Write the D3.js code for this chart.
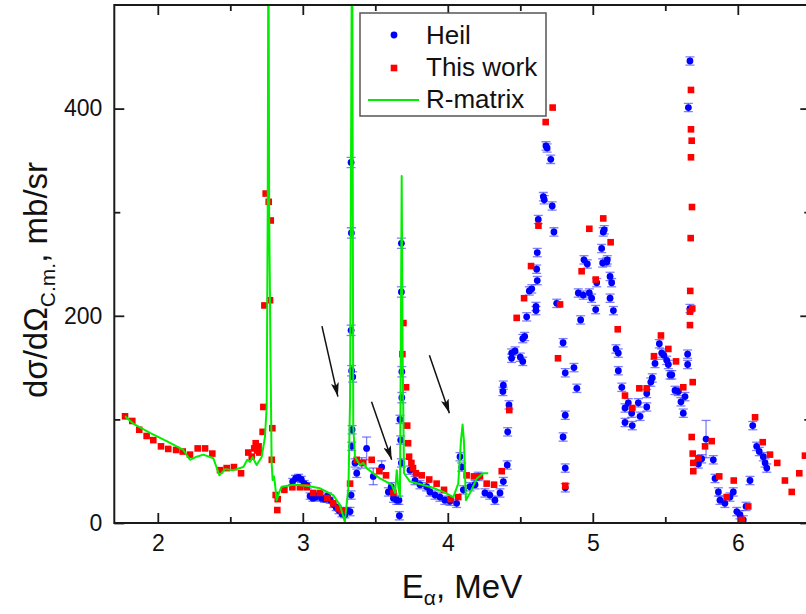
<!DOCTYPE html>
<meta charset="utf-8">
<script src="https://d3js.org/d3.v7.min.js"></script>
<style>
  body { margin: 0; background: #fff; }
  text { font-family: "Liberation Sans", Arial, sans-serif; fill: #111; }
</style>
<body>
<svg width="806" height="614"></svg>
<script>
// Heil data: [E (MeV), dsigma/dOmega (mb/sr), error]
var heil = [
  [2.93,40,3],[2.95,43,3],[2.97,44,3],[2.99,42,3],[3.01,38,3],[3.03,36,3],[3.05,26,3],[3.07,24,3],
  [3.09,25,3],[3.11,27,3],[3.13,24,3],[3.15,23,3],[3.17,26,3],[3.19,22,3],[3.21,18,3],[3.23,15,3],
  [3.25,12,3],[3.27,9,3],[3.29,8,3],[3.307,12,3],[3.326,11,4],[3.333,27,4],[3.337,74,4],[3.34,90,4],
  [3.344,141,5],[3.337,147,5],[3.333,186,5],[3.335,280,5],[3.333,348,5],
  [3.36,58,4],[3.372,48,4],[3.406,58,5],[3.44,72,11],[3.486,45,8],[3.544,54,6],[3.59,30,4],
  [3.61,35,4],[3.625,24,4],[3.648,22,4],[3.666,7,4],[3.663,22,4],[3.67,100,4],[3.675,80,4],
  [3.68,58,4],[3.683,146,5],[3.683,121,5],[3.68,223,5],[3.68,270,5],
  [3.739,51,4],[3.774,41,4],[3.808,37,4],[3.854,35,4],[3.877,30,4],[3.912,27,4],[3.946,25,4],
  [3.98,22,4],[4.015,21,4],[4.061,19,4],[4.084,64,4],[4.096,54,4],[4.107,32,4],[4.153,35,4],
  [4.188,37,4],[4.21,45,4],[4.256,29,4],[4.29,27,4],[4.325,22,4],[4.36,29,4],[4.383,40,4],
  [4.41,56,4],[4.413,88,4],[4.422,114,4],[4.38,127,4],[4.383,133,4],
  [4.44,164,4],[4.464,166,4],[4.44,159,4],[4.5,160,4],[4.517,156,4],[4.517,178,4],[4.53,180,4],
  [4.544,199,4],[4.562,224,4],[4.579,226,4],[4.608,209,4],[4.608,205,4],[4.617,234,4],
  [4.613,245,4],[4.617,261,4],[4.624,293,4],[4.659,315,4],[4.665,312,4],[4.677,364,4],
  [4.685,362,4],[4.71,351,4],[4.72,306,4],[4.732,281,4],[4.751,212,4],[4.795,174,4],[4.81,145,4],
  [4.81,104,4],[4.795,83,4],[4.81,53,4],[4.81,34,4],[4.87,150,4],[4.89,130,4],[4.916,196,4],
  [4.9,222,4],[4.934,220,4],[4.976,222,4],[4.992,217,4],[4.939,254,4],[4.962,250,4],[5.02,206,4],
  [5.027,232,4],[5.061,265,4],[5.072,281,4],[5.079,283,4],[5.096,252,4],[5.068,251,4],[5.1,254,4],
  [5.119,238,4],[5.13,232,4],[5.119,217,4],[5.142,205,4],[5.16,168,4],[5.176,164,4],[5.176,147,4],
  [5.2,131,4],[5.245,116,4],[5.222,111,4],[5.268,106,4],[5.326,103,4],[5.222,97,4],[5.272,94,4],
  [5.314,116,4],[5.372,112,4],[5.372,125,4],[5.4,136,4],[5.41,140,4],[5.429,154,4],[5.459,173,4],
  [5.475,164,4],[5.49,162,4],[5.51,157,4],[5.521,153,4],[5.532,143,4],[5.545,143,4],[5.567,128,4],
  [5.59,127,4],[5.636,122,4],[5.608,117,4],[5.624,106,4],[5.654,163,4],[5.654,153,4],
  [5.659,401,4],[5.67,446,4],[5.67,207,4],[5.781,81,18],[5.751,62,4],[5.728,57,4],[5.831,61,4],
  [5.843,43,4],[5.866,30,4],[5.877,22,4],[5.911,19,4],[5.946,25,4],[5.969,30,4],[5.993,11,4],
  [6.015,8,4],[6.038,3,4],[6.057,16,4],[6.084,41,4],[6.103,94,4],[6.13,74,4],[6.148,69,4],
  [6.176,64,4],[6.188,58,4],[6.2,53,4]
];

// This work: [E, value]
var thisWork = [
  [1.774,103],[1.824,98.5],[1.872,90],[1.923,84],[1.969,80],[2.022,74],[2.072,71.5],[2.126,70.5],
  [2.172,69],[2.222,66],[2.275,72],[2.326,72],[2.376,67],[2.429,51],[2.475,53],[2.525,54],
  [2.574,48],[2.624,68],[2.648,64],[2.665,72],[2.675,77],[2.685,70],[2.695,74],[2.70,68],
  [2.723,88],[2.728,112],[2.735,210],[2.744,318],[2.765,310],[2.779,292],[2.774,215],[2.79,91.5],
  [2.786,61],[2.813,27],[2.827,23],[2.824,12.5],
  [2.873,32],[2.928,34.5],[2.98,34.5],[3.027,34.5],[3.072,29],[3.119,29],[3.169,24],[3.21,19],
  [3.245,14],[3.268,12],[3.326,38],[3.372,61],[3.417,58],[3.475,61],[3.528,50],[3.574,46],
  [3.625,29],[3.694,193],[3.687,163],[3.712,131],[3.72,94],[3.726,77],[3.733,64],[3.749,58],
  [3.76,53],[3.78,48],[3.82,46],[3.872,42],[3.923,38],[3.974,32],[4.02,23],[4.072,25],[4.13,46],
  [4.18,45],[4.222,45],[4.268,38],[4.319,37],[4.372,50],[4.424,109],[4.475,198],[4.526,217],
  [4.574,248],[4.625,287],[4.675,387],[4.723,401],[4.774,211],[4.76,159],[4.81,36],[4.923,243],
  [4.976,284],[5.02,235],[5.072,294],[5.123,271],[5.172,187],[5.222,123],[5.272,111],[5.321,130],
  [5.372,130],[5.422,161],[5.47,181],[5.521,168],[5.574,156],[5.624,131],[5.689,136],[5.677,418],
  [5.677,380],[5.682,369],[5.677,353],[5.684,305],[5.675,275],[5.672,224],[5.686,207],[5.67,204],
  [5.67,191],[5.682,83],[5.689,67],[5.693,58],[5.693,50],[5.728,62.5],[5.774,74],[5.82,79],
  [5.872,45],[5.923,25],[5.972,41],[6.027,3],[6.072,16],[6.119,102],[6.172,78],[6.222,66],
  [6.272,58],[6.325,41],[6.372,30],[6.424,48],[6.463,65]
];

// R-matrix curve: [E, value]
var rMatrix = [
  [1.774,103],[1.83,96],[1.946,87],[2.061,79],[2.176,70.5],[2.222,61],[2.268,64],[2.314,66],
  [2.383,62.5],[2.425,46],[2.464,52],[2.521,51],[2.59,54],[2.617,61],[2.636,59],[2.654,63.5],
  [2.682,56],[2.717,64],[2.739,83],[2.751,112],[2.758,300],[2.763,620],[2.768,300],[2.779,138],
  [2.785,58],[2.792,41.5],[2.801,45],[2.808,38],[2.82,22],[2.838,30],[2.854,35],[2.935,37],
  [3.027,36],[3.119,33.5],[3.21,27],[3.257,17],[3.29,1],[3.315,35],[3.326,119],[3.334,400],
  [3.34,620],[3.345,300],[3.348,93],[3.36,64],[3.394,56],[3.417,58],[3.44,53],[3.532,43],
  [3.613,37],[3.636,29],[3.648,51],[3.659,35],[3.67,25],[3.676,170],[3.682,335],[3.688,170],
  [3.698,48],[3.739,40],[3.877,35],[3.97,30],[4.038,25],[4.072,38],[4.091,80],[4.102,95],
  [4.111,80],[4.125,22],[4.153,29],[4.2,43],[4.245,48],[4.279,48]
];

// arrows: [E start, value start, E end, value end]
var arrows = [
  [3.132,190,3.242,122],
  [3.474,117,3.613,61],
  [3.873,162,4.011,106]
];

var xMajor = [2, 3, 4, 5, 6], xMinor = [2.5, 3.5, 4.5, 5.5];
var yMajor = [0, 200, 400],   yMinor = [100, 300];

var svg = d3.select('svg');
var x = d3.scaleLinear().domain([1.7, 6.5]).range([114.3, 810.3]);
var y = d3.scaleLinear().domain([0, 500]).range([523, 5]);
var pl = x.range()[0], pr = x.range()[1], pt = y.range()[1], pb = y.range()[0];

svg.append('clipPath').attr('id', 'plot')
  .append('rect').attr('x', pl).attr('y', pt).attr('width', pr - pl).attr('height', pb - pt);

function axis(gen, tx, ty, vals, size, labels) {
  var g = svg.append('g').attr('transform', 'translate(' + tx + ',' + ty + ')')
    .call(gen.tickValues(vals).tickSize(-size).tickPadding(labels ? 12 : 0)
      .tickFormat(labels ? d3.format('d') : ''));
  g.select('.domain').remove();
  g.selectAll('line').attr('stroke', '#1a1a1a').attr('stroke-width', 1.8);
  g.selectAll('text').style('font-size', '23px').attr('fill', '#111');
  return g;
}
axis(d3.axisBottom(x), 0, pb, xMajor, 10, true);
axis(d3.axisBottom(x), 0, pb, xMinor, 6, false);
axis(d3.axisTop(x), 0, pt, xMajor, 10, false);
axis(d3.axisTop(x), 0, pt, xMinor, 6, false);
axis(d3.axisLeft(y), pl, 0, yMajor, 10, true);
axis(d3.axisLeft(y), pl, 0, yMinor, 6, false);
axis(d3.axisRight(y), pr, 0, yMajor, 10, false);
axis(d3.axisRight(y), pr, 0, yMinor, 6, false);

var plot = svg.append('g').attr('clip-path', 'url(#plot)');

// Heil: error bars + dots
var eb = plot.append('g').attr('stroke', '#2a2aff').attr('stroke-opacity', 0.6).attr('stroke-width', 1.3);
heil.forEach(function(d) {
  var cx = x(d[0]), y1 = y(d[1] - d[2]), y2 = y(d[1] + d[2]);
  eb.append('line').attr('x1', cx).attr('x2', cx).attr('y1', y1).attr('y2', y2);
  eb.append('line').attr('x1', cx - 4.5).attr('x2', cx + 4.5).attr('y1', y1).attr('y2', y1);
  eb.append('line').attr('x1', cx - 4.5).attr('x2', cx + 4.5).attr('y1', y2).attr('y2', y2);
});
plot.append('g').selectAll('circle').data(heil).enter().append('circle')
  .attr('cx', function(d) { return x(d[0]); })
  .attr('cy', function(d) { return y(d[1]); })
  .attr('r', 3.4).attr('fill', '#0000ff');

// This work: squares
plot.append('g').selectAll('rect').data(thisWork).enter().append('rect')
  .attr('x', function(d) { return x(d[0]) - 3.3; })
  .attr('y', function(d) { return y(d[1]) - 3.3; })
  .attr('width', 6.6).attr('height', 6.6).attr('fill', '#ff0000');

// R-matrix line
plot.append('path').datum(rMatrix)
  .attr('fill', 'none').attr('stroke', '#00ee00').attr('stroke-width', 2)
  .attr('stroke-linejoin', 'round')
  .attr('d', d3.line().x(function(d) { return x(d[0]); }).y(function(d) { return y(d[1]); }));

// arrows
svg.append('defs').append('marker').attr('id', 'head')
  .attr('viewBox', '0 0 14 8').attr('refX', 14).attr('refY', 4)
  .attr('markerWidth', 14).attr('markerHeight', 8).attr('markerUnits', 'userSpaceOnUse')
  .attr('orient', 'auto')
  .append('path').attr('d', 'M0,0L14,4L0,8L3,4Z').attr('fill', '#111');
svg.append('g').selectAll('line').data(arrows).enter().append('line')
  .attr('x1', function(d) { return x(d[0]); }).attr('y1', function(d) { return y(d[1]); })
  .attr('x2', function(d) { return x(d[2]); }).attr('y2', function(d) { return y(d[3]); })
  .attr('stroke', '#111').attr('stroke-width', 1.5).attr('marker-end', 'url(#head)');

// frame
svg.append('rect').attr('x', pl).attr('y', pt).attr('width', pr - pl).attr('height', pb - pt)
  .attr('fill', 'none').attr('stroke', '#1a1a1a').attr('stroke-width', 2);

// legend
var lg = svg.append('g');
lg.append('rect').attr('x', 360).attr('y', 13).attr('width', 186).attr('height', 103)
  .attr('fill', '#fff').attr('stroke', '#555').attr('stroke-width', 1.5);
lg.append('circle').attr('cx', 394).attr('cy', 35).attr('r', 3.4).attr('fill', '#0000ff');
lg.append('rect').attr('x', 390.7).attr('y', 64.7).attr('width', 6.6).attr('height', 6.6).attr('fill', '#ff0000');
lg.append('line').attr('x1', 368).attr('x2', 419).attr('y1', 100).attr('y2', 100)
  .attr('stroke', '#00ee00').attr('stroke-width', 2);
[['Heil', 43.5], ['This work', 76], ['R-matrix', 108]].forEach(function(t) {
  lg.append('text').attr('x', 426).attr('y', t[1]).style('font-size', '26px').text(t[0]);
});

// axis titles
var xt = svg.append('text').attr('x', 462).attr('y', 598).attr('text-anchor', 'middle').style('font-size', '33px');
xt.append('tspan').text('E');
xt.append('tspan').attr('dy', 7).style('font-size', '21px').text('\u03b1');
xt.append('tspan').attr('dy', -7).text(', MeV');

var yt = svg.append('text').attr('transform', 'translate(47,280) rotate(-90)')
  .attr('text-anchor', 'middle').style('font-size', '33px');
yt.append('tspan').text('d\u03c3/d\u03a9');
yt.append('tspan').attr('dy', 8).style('font-size', '21px').text('C.m.');
yt.append('tspan').attr('dy', -8).text(', mb/sr');
</script>
</body>
